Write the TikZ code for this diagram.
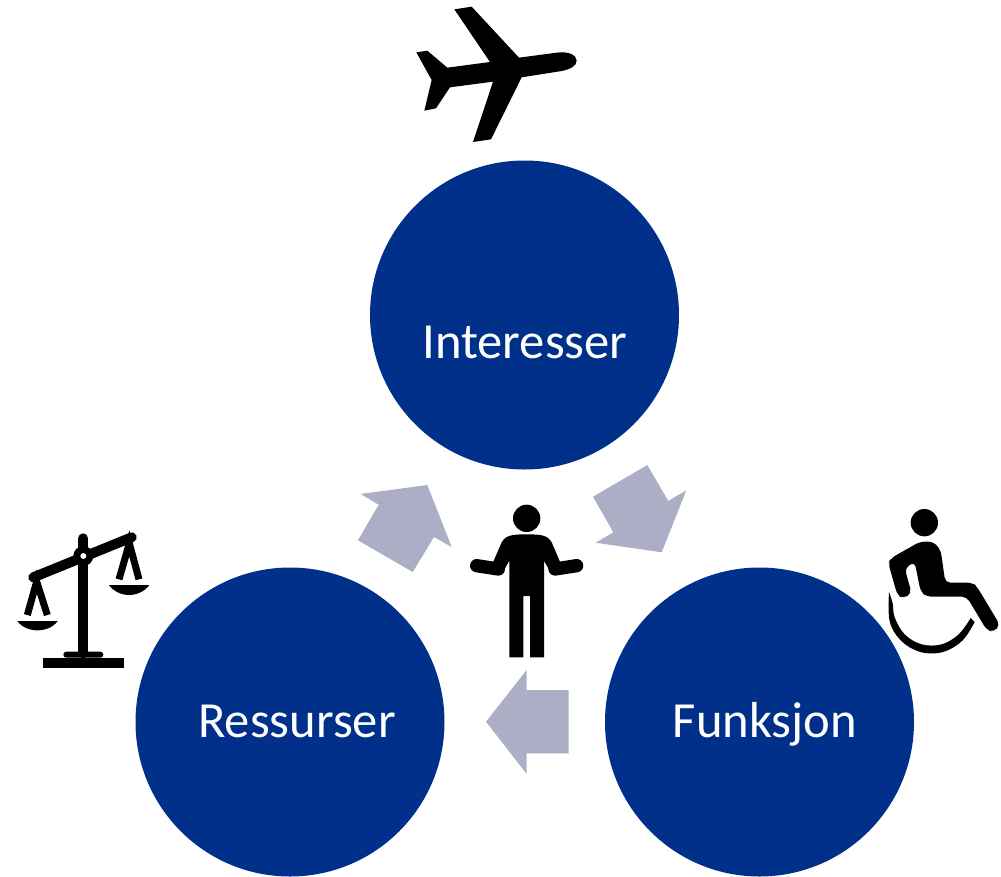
\documentclass[tikz,border=0pt]{standalone}
\usepackage{fontspec}
\setmainfont{Carlito}
\definecolor{navy}{HTML}{00308A}
\definecolor{pale}{HTML}{ABAEC5}
\tikzset{
  bigcircle/.style={circle,fill=navy,draw=none,minimum size=309pt,inner sep=0pt},
  label/.style={anchor=base,text=white,inner sep=0pt,font=\fontsize{50.6}{52}\selectfont},
  blockarrow/.style={fill=pale,draw=none},
  icon/.style={fill=black,draw=none},
  limb/.style={draw=black,line cap=round,line join=round},
  zoomed/.style={x=0.33333pt,y=-0.33333pt}
}
\begin{document}
\begin{tikzpicture}[x=1pt,y=-1pt]
\useasboundingbox (0,0) rectangle (1001,876);
\node[bigcircle] (top) at (524.5,315) {};
\node[bigcircle] (left) at (290,722) {};
\node[bigcircle] (right) at (759.5,722) {};
\node[label] (toptext) at (525,358) {Interesser};
\node[label] (lefttext) at (297,737) {Ressurser};
\node[label] (righttext) at (765,737) {Funksjon};
% block arrows
\fill[blockarrow] (486,721.7) -- (526.7,670) -- (526.7,690) -- (568.7,690) -- (568.7,753.3) -- (526.7,753.3) -- (526.7,774) -- cycle;
\fill[blockarrow] (360.7,494) -- (427.3,485) -- (451.7,547) -- (434,537) -- (412.7,572) -- (358,540.3) -- (378.7,504.7) -- cycle;
\fill[blockarrow] (647.3,465) -- (668.3,501) -- (686.3,490.3) -- (661.7,552.3) -- (595.7,542.7) -- (613.3,532.3) -- (593,496.7) -- cycle;
% plane
\begin{scope}[shift={(400,0)},zoomed]
\fill[icon] (163,28) -- (215,20) -- (357,173) -- (470,158) .. controls (505,153) and (530,165) .. (530,182)
  .. controls (530,198) and (510,208) .. (485,213) -- (365,232) -- (273,418) -- (219,426) -- (279,245) -- (150,262)
  -- (108,325) -- (73,332) -- (95,240) -- (49,157) -- (82,152) -- (142,203) -- (270,186) -- cycle;
\end{scope}
% scales
\begin{scope}[shift={(0,520)},zoomed]
\fill[icon] (128,413) rectangle (372,443);
\fill[icon,rounded corners=3pt] (190,413) -- (190,395) -- (310,395) -- (310,413) -- cycle;
\draw[limb,line width=10pt] (250,55) -- (250,400);
\draw[limb,line width=10pt] (100,172) -- (395,52);
\draw[limb,line width=7pt,line cap=butt,line join=miter] (82,285) -- (110,185) -- (142,285);
\draw[limb,line width=7pt,line cap=butt,line join=miter] (357,178) -- (388,70) -- (417,178);
\fill[icon] (52,303) -- (173,303) .. controls (160,322) and (135,331) .. (112,331) .. controls (90,331) and (65,322) .. (52,303) -- cycle;
\fill[icon] (327,195) -- (448,195) .. controls (435,214) and (410,225) .. (387,225) .. controls (365,225) and (340,214) .. (327,195) -- cycle;
\fill[icon] (250,108) circle[radius=30];
\fill[white] (250,108) circle[radius=9];
\end{scope}
% wheelchair
\begin{scope}[shift={(870,500)},zoomed]
\fill[icon] (163,68) circle[radius=41];
\fill[icon,rounded corners=5pt] (150,125) -- (190,125) -- (212,150) -- (226,248) -- (308,248) -- (322,262) -- (390,375)
  -- (372,396) -- (350,390) -- (290,290) -- (170,290) -- (152,275) -- (134,185) -- (104,205) -- (125,280) -- (100,296)
  -- (82,285) -- (55,190) -- (62,175) -- cycle;
\fill[icon] plot[smooth,tension=0.6] coordinates {(57,276) (59,364) (93,422) (151,456) (219,456) (277,422) (314,366)}
  -- plot[smooth,tension=0.6] coordinates {(302,354) (266,403) (215,433) (155,433) (104,403) (74,352) (68,310) (57,276)} -- cycle;
\end{scope}
% person
\begin{scope}[shift={(460,495)},zoomed]
\fill[icon] (200,70) circle[radius=41];
\fill[icon] (148,487) -- (190,487) -- (190,303) -- (210,303) -- (210,487) -- (252,487) -- (252,197) -- (275,238)
  -- (300,200) -- (275,142) .. controls (268,128) and (255,122) .. (240,120) .. controls (215,117) and (185,117) .. (160,120)
  .. controls (145,122) and (132,128) .. (125,142) -- (100,200) -- (125,238) -- (148,197) -- cycle;
\draw[limb,line width=13.3pt] (50,212) -- (115,222);
\draw[limb,line width=13.3pt] (350,212) -- (285,222);
\end{scope}
\end{tikzpicture}
\end{document}
